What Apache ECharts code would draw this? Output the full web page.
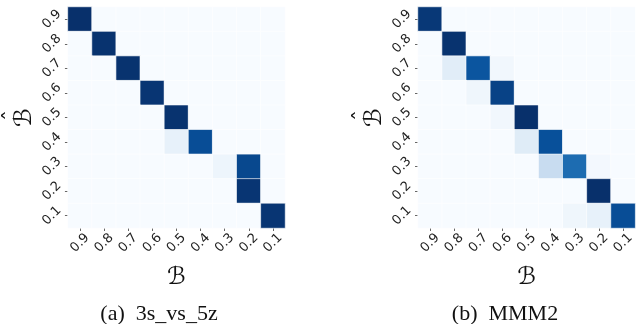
<!DOCTYPE html>
<html>
<head>
<meta charset="utf-8">
<script src="https://cdn.jsdelivr.net/npm/echarts@6/dist/echarts.min.js"></script>
<style>html,body{margin:0;padding:0;background:#fff}#c{width:637px;height:324px}</style>
</head>
<body>
<div id="c"></div>
<script>
var xCats = ['0.9','0.8','0.7','0.6','0.5','0.4','0.3','0.2','0.1'];
var yCats = ['0.9','0.8','0.7','0.6','0.5','0.4','0.3','0.2','0.1'];
var captions = ['(a)  3s_vs_5z', '(b)  MMM2'];
var matA = [
  [1.00,0,0,0,0,0,0,0,0],
  [0,0.99,0,0,0,0,0,0,0],
  [0,0,0.99,0,0,0,0,0,0],
  [0,0,0,0.98,0,0,0,0,0],
  [0,0,0,0,0.99,0,0,0,0],
  [0,0,0,0,0.08,0.89,0,0,0],
  [0,0,0,0,0,0,0.05,0.91,0],
  [0,0,0,0,0,0,0,0.98,0],
  [0,0,0,0,0,0,0,0,0.98]
];
var matB = [
  [0.97,0,0,0,0,0,0,0,0],
  [0,0.99,0,0,0,0,0,0,0],
  [0,0.11,0.86,0.03,0,0,0,0,0],
  [0,0,0.04,0.93,0,0,0,0,0],
  [0,0,0,0.03,1.00,0,0,0,0],
  [0,0,0,0,0.12,0.88,0,0,0],
  [0,0,0,0,0,0.24,0.77,0.02,0],
  [0,0,0,0,0,0,0,1.00,0],
  [0,0,0,0,0,0,0.04,0.08,0.89]
];
function toData(m){
  var d=[];
  for(var r=0;r<m.length;r++) for(var c=0;c<m[r].length;c++) d.push([c,r,m[r][c]]);
  return d;
}
var blues = ['#f7fbff','#deebf7','#c6dbef','#9ecae1','#6baed6','#4292c6','#2171b5','#08519c','#08306b'];
var grids = [{left:66, top:7, width:219, height:221},{left:418, top:7, width:219, height:221}];
var tickLabel = {fontFamily:'DejaVu Sans', fontSize:13, color:'#222', rotate:45, align:'center', verticalAlign:'middle', interval:0};
var nameStyle = {fontFamily:'DejaVu Sans', fontSize:24, color:'#111'};
var yNameStyle = {fontFamily:'DejaVu Sans', fontSize:24, color:'#111',
  rich:{h:{fontFamily:'DejaVu Sans', fontSize:22, lineHeight:4, color:'#111', padding:[0,0,0,4]},
        b:{fontFamily:'DejaVu Sans', fontSize:24, lineHeight:22, color:'#111'}}};
var xAxes=[], yAxes=[], series=[];
[matA, matB].forEach(function(m,i){
  xAxes.push({type:'category', gridIndex:i, data:xCats, axisLine:{show:false},
    axisTick:{show:true, length:3, alignWithLabel:true, interval:0, lineStyle:{color:'#666'}},
    axisLabel:Object.assign({margin:15}, tickLabel),
    name:'\u212C', nameLocation:'middle', nameGap:38, nameTextStyle:nameStyle});
  yAxes.push({type:'category', gridIndex:i, data:yCats, inverse:true, axisLine:{show:false},
    axisTick:{show:true, length:3, alignWithLabel:true, interval:0, lineStyle:{color:'#666'}},
    axisLabel:Object.assign({margin:16}, tickLabel),
    name:'{h|\u02C6}\n{b|\u212C}', nameLocation:'middle', nameGap:31, nameTextStyle:yNameStyle});
  series.push({type:'heatmap', xAxisIndex:i, yAxisIndex:i, data:toData(m),
    itemStyle:{borderColor:'#ffffff', borderWidth:0.6}, emphasis:{disabled:true}});
});
var chart = echarts.init(document.getElementById('c'), null, {renderer:'canvas'});
chart.setOption({
  animation:false,
  backgroundColor:'#fff',
  grid:grids,
  xAxis:xAxes,
  yAxis:yAxes,
  visualMap:{type:'continuous', show:false, min:0, max:1, seriesIndex:[0,1], inRange:{color:blues}},
  title:[
    {text:captions[0], left:154, top:298, textAlign:'center', textStyle:{fontFamily:'Liberation Serif', fontWeight:'normal', fontSize:22, color:'#111'}},
    {text:captions[1], left:500, top:298, textAlign:'center', textStyle:{fontFamily:'Liberation Serif', fontWeight:'normal', fontSize:22, color:'#111'}}
  ],
  series:series
});
</script>
</body>
</html>
